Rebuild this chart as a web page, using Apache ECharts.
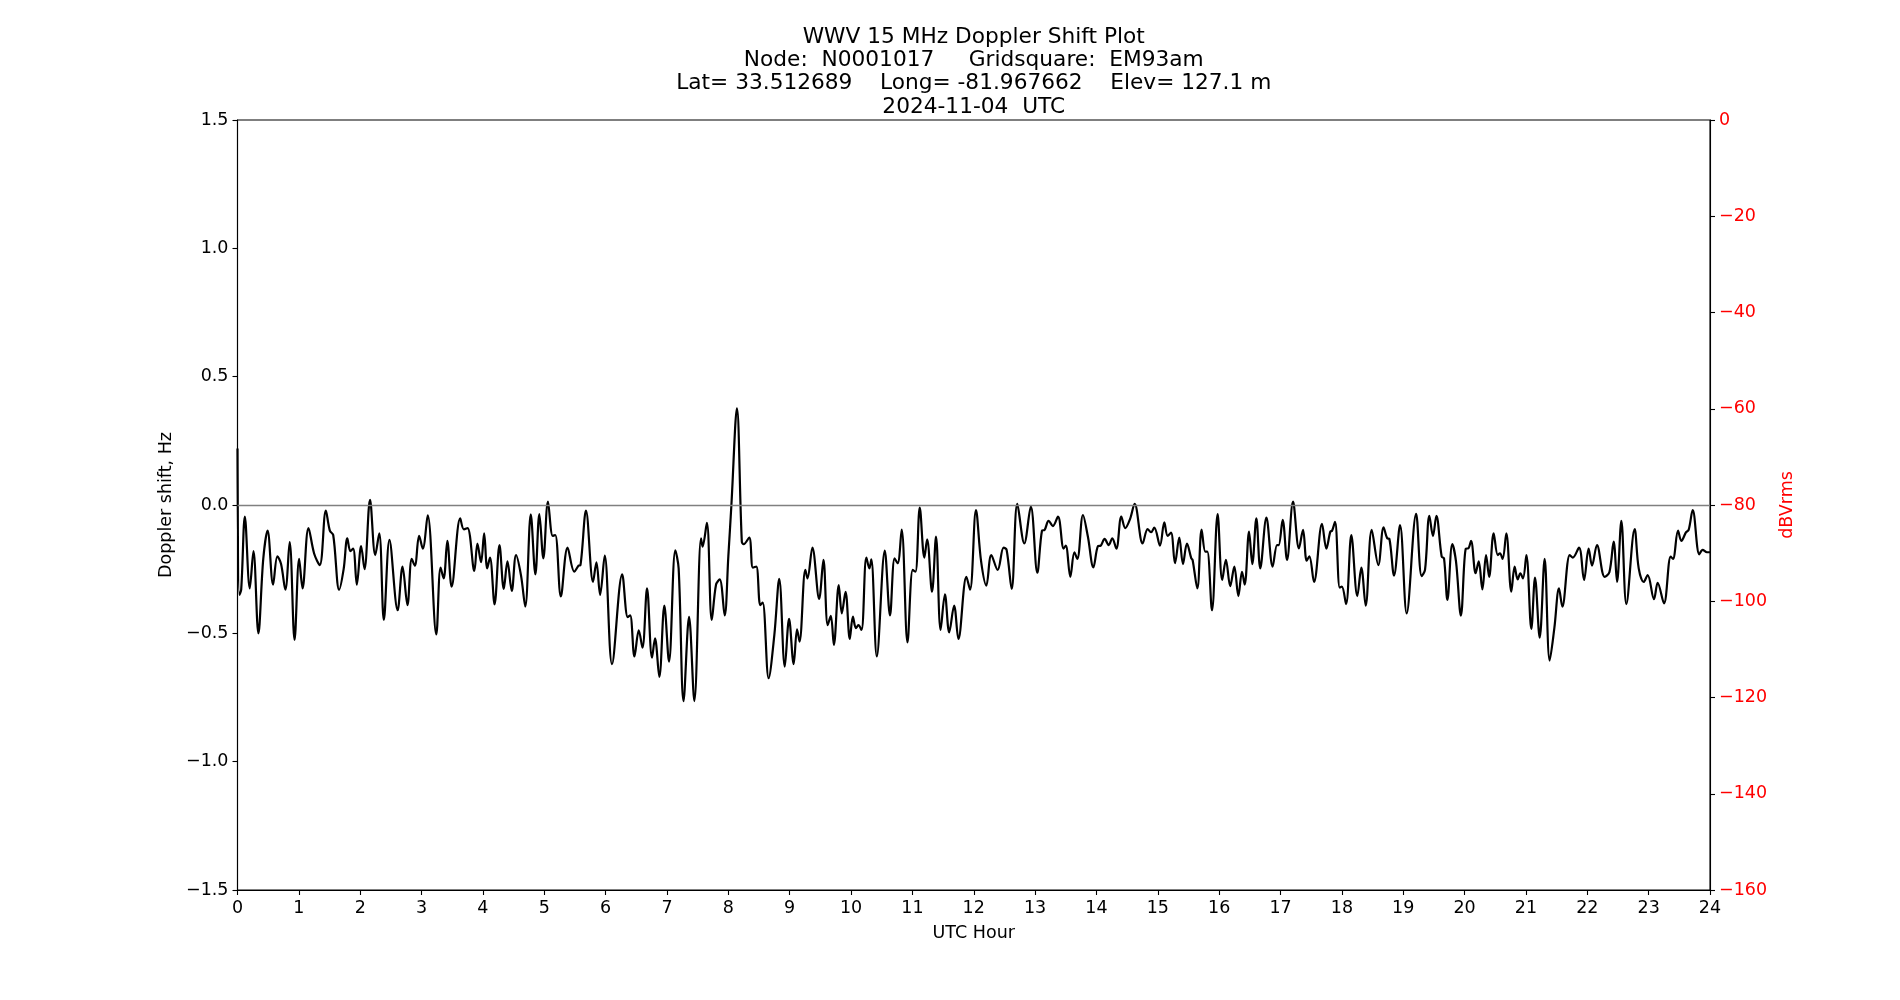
<!DOCTYPE html>
<html>
<head>
<meta charset="utf-8">
<title>WWV 15 MHz Doppler Shift Plot</title>
<script src="https://cdn.jsdelivr.net/npm/echarts@6/dist/echarts.min.js"></script>
<style>
    html, body { margin: 0; padding: 0; background: #fff; }
    #main { width: 1900px; height: 1000px; }
</style>
</head>
<body>
<div id="main"></div>
<script>
// title lines
var titleLines = [
    'WWV 15 MHz Doppler Shift Plot',
    'Node:  N0001017     Gridsquare:  EM93am',
    'Lat= 33.512689    Long= -81.967662    Elev= 127.1 m',
    '2024-11-04  UTC'
];

// UTC hour of each point
var hours = [
    0, 0.03, 0.06, 0.12, 0.20, 0.26, 0.34, 0.42, 0.49, 0.58, 0.65, 0.71, 0.78, 0.85, 0.93,
    1.005, 1.06, 1.157, 1.25, 1.34, 1.44, 1.505, 1.56, 1.657, 1.73, 1.79, 1.84, 1.885, 1.945,
    2.015, 2.07, 2.16, 2.245, 2.31, 2.385, 2.477, 2.61, 2.69, 2.77, 2.84, 2.89, 2.96,
    3.02, 3.10, 3.24, 3.31, 3.36, 3.42, 3.49, 3.63, 3.69, 3.75, 3.86, 3.91, 3.97,
    4.02, 4.07, 4.115, 4.19, 4.27, 4.34, 4.40, 4.47, 4.54, 4.62, 4.69, 4.78, 4.855, 4.92, 4.985,
    5.06, 5.137, 5.18, 5.27, 5.38, 5.49, 5.56, 5.59, 5.68, 5.795, 5.85, 5.91, 5.985,
    6.104, 6.27, 6.36, 6.40, 6.47, 6.54, 6.60, 6.675, 6.756, 6.805, 6.875, 6.957,
    7.033, 7.136, 7.19, 7.27, 7.36, 7.446, 7.555, 7.58, 7.65, 7.73, 7.80, 7.86, 7.94,
    8.0, 8.05, 8.14, 8.22, 8.25, 8.34, 8.40, 8.456, 8.52, 8.56, 8.657, 8.75, 8.83, 8.92, 8.99,
    9.065, 9.12, 9.16, 9.255, 9.29, 9.37, 9.48, 9.55, 9.62, 9.67, 9.72, 9.80, 9.85, 9.91, 9.98,
    10.03, 10.08, 10.12, 10.17, 10.25, 10.30, 10.33, 10.42, 10.55, 10.635, 10.71, 10.76, 10.825, 10.92,
    11.005, 11.05, 11.12, 11.195, 11.24, 11.32, 11.385, 11.46, 11.53, 11.60, 11.68, 11.75, 11.88, 11.94,
    12.036, 12.12, 12.205, 12.286, 12.39, 12.487, 12.536, 12.618, 12.71, 12.824, 12.93,
    13.036, 13.112, 13.155, 13.22, 13.29, 13.373, 13.465, 13.50, 13.574, 13.64, 13.688, 13.78, 13.86, 13.95,
    14.025, 14.07, 14.133, 14.199, 14.258, 14.324, 14.405, 14.47, 14.547, 14.622, 14.753, 14.834, 14.889, 14.943,
    15.035, 15.106, 15.16, 15.215, 15.28, 15.35, 15.41, 15.475, 15.546, 15.567, 15.644, 15.714, 15.774, 15.807, 15.883, 15.975,
    16.05, 16.11, 16.18, 16.247, 16.313, 16.372, 16.416, 16.487, 16.54, 16.606, 16.67, 16.77, 16.872, 16.943, 16.97,
    17.035, 17.106, 17.204, 17.30, 17.367, 17.426, 17.47, 17.546, 17.676, 17.747, 17.812, 17.84, 17.888, 17.965,
    18.0, 18.068, 18.154, 18.252, 18.317, 18.388, 18.486, 18.594, 18.68, 18.74, 18.774, 18.85, 18.948,
    19.056, 19.21, 19.30, 19.355, 19.426, 19.485, 19.54, 19.627, 19.665, 19.72, 19.80, 19.86, 19.94,
    20.02, 20.06, 20.105, 20.18, 20.23, 20.29, 20.35, 20.40, 20.474, 20.54, 20.577, 20.62, 20.68, 20.762, 20.816, 20.865, 20.909, 20.952,
    21.007, 21.088, 21.148, 21.224, 21.305, 21.387, 21.463, 21.539, 21.593, 21.713, 21.762, 21.865, 21.947,
    22.022, 22.077, 22.158, 22.283, 22.36, 22.43, 22.485, 22.555, 22.637, 22.772, 22.838, 22.919, 22.984,
    23.087, 23.147, 23.25, 23.359, 23.397, 23.479, 23.533, 23.61, 23.652, 23.718, 23.826, 23.88, 23.95, 24.0
];

// Doppler shift, Hz
var shift = [
    0.22, -0.35, -0.33, -0.045, -0.325, -0.18, -0.50, -0.21, -0.10, -0.31, -0.20, -0.23, -0.33, -0.145, -0.526,
    -0.21, -0.325, -0.09, -0.19, -0.234, -0.022, -0.10, -0.117, -0.33, -0.25, -0.13, -0.18, -0.17, -0.31,
    -0.16, -0.25, 0.02, -0.195, -0.11, -0.448, -0.136, -0.41, -0.24, -0.39, -0.21, -0.236, -0.12,
    -0.17, -0.04, -0.504, -0.244, -0.286, -0.14, -0.318, -0.052, -0.095, -0.09, -0.257, -0.15, -0.223,
    -0.11, -0.247, -0.205, -0.387, -0.156, -0.327, -0.22, -0.335, -0.195, -0.273, -0.396, -0.036, -0.27, -0.035, -0.208,
    0.013, -0.12, -0.117, -0.356, -0.166, -0.26, -0.236, -0.234, -0.022, -0.30, -0.223, -0.35, -0.197,
    -0.62, -0.27, -0.437, -0.43, -0.59, -0.488, -0.556, -0.325, -0.595, -0.52, -0.67, -0.392,
    -0.61, -0.177, -0.247, -0.764, -0.436, -0.764, -0.13, -0.162, -0.07, -0.448, -0.31, -0.29, -0.43,
    -0.2, 0.0, 0.377, -0.143, -0.153, -0.127, -0.244, -0.24, -0.39, -0.38, -0.675, -0.506, -0.288, -0.63, -0.444,
    -0.62, -0.484, -0.532, -0.253, -0.286, -0.166, -0.366, -0.214, -0.468, -0.432, -0.545, -0.312, -0.422, -0.338, -0.522,
    -0.435, -0.48, -0.468, -0.487, -0.205, -0.247, -0.212, -0.59, -0.178, -0.43, -0.208, -0.227, -0.096, -0.535,
    -0.253, -0.26, -0.01, -0.205, -0.134, -0.338, -0.123, -0.487, -0.348, -0.496, -0.392, -0.522, -0.28, -0.33,
    -0.02, -0.22, -0.314, -0.195, -0.253, -0.166, -0.175, -0.327, 0.004, -0.15, -0.006,
    -0.264, -0.10, -0.097, -0.062, -0.082, -0.045, -0.17, -0.158, -0.28, -0.184, -0.21, -0.039, -0.123, -0.243,
    -0.16, -0.158, -0.132, -0.156, -0.13, -0.17, -0.045, -0.09, -0.055, 0.004, -0.15, -0.094, -0.106, -0.088,
    -0.158, -0.068, -0.12, -0.108, -0.227, -0.127, -0.23, -0.15, -0.208, -0.214, -0.325, -0.096, -0.182, -0.182, -0.41, -0.035,
    -0.292, -0.214, -0.316, -0.24, -0.355, -0.26, -0.31, -0.104, -0.23, -0.052, -0.247, -0.049, -0.24, -0.156, -0.156,
    -0.058, -0.214, 0.013, -0.169, -0.097, -0.217, -0.20, -0.30, -0.073, -0.17, -0.104, -0.10, -0.066, -0.322,
    -0.318, -0.386, -0.117, -0.355, -0.244, -0.392, -0.097, -0.234, -0.087, -0.13, -0.132, -0.275, -0.078,
    -0.422, -0.034, -0.277, -0.253, -0.042, -0.121, -0.042, -0.201, -0.208, -0.37, -0.152, -0.22, -0.431,
    -0.17, -0.169, -0.14, -0.266, -0.22, -0.329, -0.195, -0.28, -0.11, -0.195, -0.188, -0.21, -0.11, -0.338, -0.24, -0.29, -0.266, -0.286,
    -0.195, -0.483, -0.283, -0.517, -0.21, -0.606, -0.48, -0.325, -0.396, -0.195, -0.205, -0.166, -0.292,
    -0.17, -0.236, -0.156, -0.28, -0.262, -0.143, -0.30, -0.062, -0.386, -0.094, -0.247, -0.30, -0.273,
    -0.367, -0.303, -0.383, -0.201, -0.21, -0.10, -0.14, -0.106, -0.097, -0.02, -0.192, -0.175, -0.184, -0.184
];

// axis ranges / ticks
var hourTicks = { min: 0, max: 24, step: 1 };
var shiftTicks = { min: -1.5, max: 1.5, step: 0.5 };
var dbTicks = { min: -160, max: 0, step: 20 };

window.onload = function(){
    drawChart();
};

// matplotlib style minus sign
function minusFmt(digits){
    return function(v){
        var s = Math.abs(v).toFixed(digits);
        return (v < 0 ? '\u2212' : '') + s;
    };
}

function drawChart(){
    var chart = echarts.init(document.getElementById('main'), null, { renderer: 'canvas' });
    var font = 'DejaVu Sans';
    var tickFont = 17.5;

    var points = [];
    for (var i = 0; i < hours.length; i++) {
        points.push([hours[i], shift[i]]);
    }

    var tickStyle = { show: true, length: 5, lineStyle: { color: '#000', width: 1.1 } };

    var option = {
        backgroundColor: '#fff',
        animation: false,
        grid: {
            left: 237.5, right: 190, top: 120, bottom: 110,
            show: true, borderColor: '#000', borderWidth: 1.1, backgroundColor: 'transparent'
        },
        graphic: [{
            type: 'text',
            x: 973.75,
            y: 25.5,
            style: {
                text: titleLines.join('\n'),
                fontFamily: font,
                fontSize: 21.7,
                lineHeight: 23.3,
                fill: '#000',
                textAlign: 'center',
                textVerticalAlign: 'top'
            }
        }],
        xAxis: {
            type: 'value',
            min: hourTicks.min, max: hourTicks.max, interval: hourTicks.step,
            name: 'UTC Hour', nameLocation: 'middle', nameGap: 34,
            nameTextStyle: { fontFamily: font, fontSize: tickFont, color: '#000' },
            axisLine: { show: true, onZero: false, lineStyle: { color: '#000', width: 1.1 } },
            axisTick: tickStyle,
            axisLabel: { fontFamily: font, fontSize: tickFont, color: '#000', margin: 9 },
            splitLine: { show: false }
        },
        yAxis: [{
            type: 'value',
            position: 'left',
            min: shiftTicks.min, max: shiftTicks.max, interval: shiftTicks.step,
            name: 'Doppler shift, Hz', nameLocation: 'middle', nameGap: 58,
            nameTextStyle: { fontFamily: font, fontSize: tickFont, color: '#000' },
            axisLine: { show: true, onZero: false, lineStyle: { color: '#000', width: 1.1 } },
            axisTick: tickStyle,
            axisLabel: { fontFamily: font, fontSize: tickFont, color: '#000', margin: 9, formatter: minusFmt(1) },
            splitLine: { show: false }
        }, {
            type: 'value',
            position: 'right',
            min: dbTicks.min, max: dbTicks.max, interval: dbTicks.step,
            name: 'dBVrms', nameLocation: 'middle', nameGap: 64, nameRotate: 90,
            nameTextStyle: { fontFamily: font, fontSize: tickFont, color: '#ff0000' },
            axisLine: { show: true, onZero: false, lineStyle: { color: '#000', width: 1.1 } },
            axisTick: tickStyle,
            axisLabel: { fontFamily: font, fontSize: tickFont, color: '#ff0000', margin: 9, formatter: minusFmt(0) },
            splitLine: { show: false }
        }],
        series: [{
            // zero reference line
            type: 'line',
            data: [],
            z: 1,
            markLine: {
                silent: true,
                symbol: ['none', 'none'],
                label: { show: false },
                lineStyle: { color: '#808080', width: 1.4, type: 'solid' },
                data: [{ yAxis: 0 }]
            }
        }, {
            name: 'Doppler shift',
            type: 'line',
            z: 3,
            data: points,
            showSymbol: false,
            smooth: 0.35,
            lineStyle: { color: '#000', width: 2.2 }
        }]
    };

    chart.setOption(option);
}
</script>
</body>
</html>
